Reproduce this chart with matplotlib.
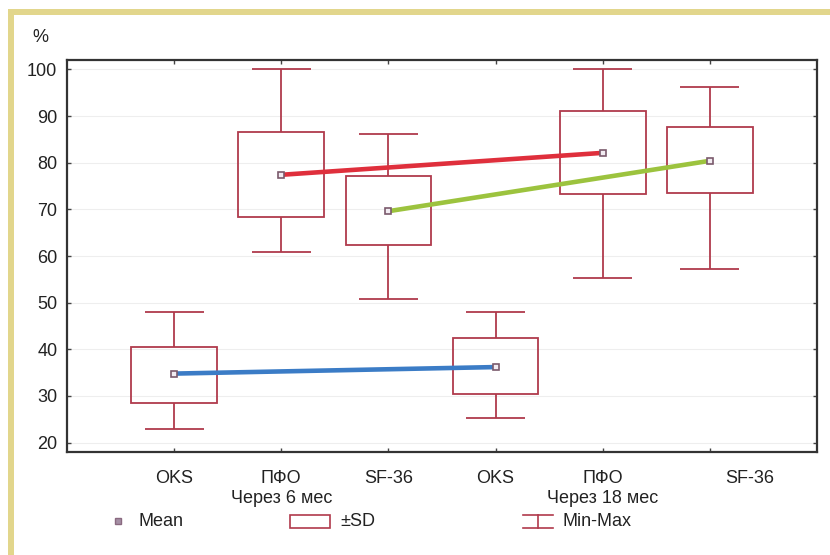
import matplotlib
matplotlib.use("Agg")
import matplotlib.pyplot as plt
from matplotlib.patches import Rectangle
from matplotlib.lines import Line2D
import matplotlib.transforms as mtransforms

plt.rcParams['font.family'] = ['Liberation Sans', 'DejaVu Sans']

# ---- data ----
categories = ["OKS", "ПФО\nЧерез 6 мес", "SF-36", "OKS", "ПФО\nЧерез 18 мес", "SF-36"]
means = [34.8, 77.4, 69.6, 36.2, 82.1, 80.4]
sd_low = [28.6, 68.4, 62.3, 30.5, 73.2, 73.6]
sd_high = [40.6, 86.5, 77.1, 42.5, 91.0, 87.6]
mins = [23.0, 60.8, 50.7, 25.2, 55.2, 57.3]
maxs = [47.9, 100.0, 86.1, 47.9, 100.0, 96.2]
yticks = [20, 30, 40, 50, 60, 70, 80, 90, 100]
line_pairs = [(0, 3), (1, 4), (2, 5)]
line_colors = ["#3b7cc6", "#df2f3c", "#9cc33e"]
legend_labels = ["Mean", "±SD", "Min-Max"]

W, H = 830, 555
fig = plt.figure(figsize=(W / 100, H / 100), dpi=100)
ax = fig.add_axes([67 / W, 1 - 452 / H, (817 - 67) / W, (452 - 60) / H])

box_col = "#b03a4c"
xs = list(range(1, len(categories) + 1))
box_w = 0.80
cap_w = 0.55

# boxes
ax.bar(xs, [h - l for h, l in zip(sd_high, sd_low)], bottom=sd_low, width=box_w,
       fill=False, edgecolor=box_col, linewidth=1.3, zorder=2)
# whiskers
ax.vlines(xs, sd_high, maxs, color=box_col, linewidth=1.3, zorder=2)
ax.vlines(xs, mins, sd_low, color=box_col, linewidth=1.3, zorder=2)
ax.hlines(maxs, [x - cap_w / 2 for x in xs], [x + cap_w / 2 for x in xs], color=box_col, linewidth=1.3, zorder=2)
ax.hlines(mins, [x - cap_w / 2 for x in xs], [x + cap_w / 2 for x in xs], color=box_col, linewidth=1.3, zorder=2)

# connecting lines
for (a, b), c in zip(line_pairs, line_colors):
    ax.plot([xs[a], xs[b]], [means[a], means[b]], color=c, linewidth=3.3,
            solid_capstyle='butt', zorder=3)

# mean markers
ax.plot(xs, means, linestyle='none', marker='s', markersize=5, markerfacecolor='#f2ecf2',
        markeredgecolor='#7a5a6c', markeredgewidth=1.2, zorder=4)

ax.set_xlim(0, 7)
ax.set_ylim(18, 102)
ax.set_yticks(yticks)
ax.set_yticklabels([str(v) for v in yticks], fontsize=13, color="#222222")
ax.set_xticks(xs)
ax.set_xticklabels(categories, fontsize=13, color="#222222", linespacing=1.2)
ax.tick_params(direction='in', top=True, right=True, length=3, width=1, color="#444444")
ax.tick_params(axis='y', pad=7)
ax.tick_params(axis='x', pad=13)
for sp in ax.spines.values():
    sp.set_color("#333333")
    sp.set_linewidth(1.6)
ax.grid(axis='y', color="#eeeeee", linewidth=0.8, zorder=0)
ax.set_axisbelow(True)

# shift the last x label to the right
lbls = ax.get_xticklabels()
offset = mtransforms.ScaledTranslation(40 / 100, 0, fig.dpi_scale_trans)
lbls[-1].set_transform(lbls[-1].get_transform() + offset)

# "%" label
fig.text(40 / W, 1 - 37 / H, "%", fontsize=13, ha='center', va='center', color="#222222")

# yellow frame (top + left)
fig.patches.append(Rectangle((8 / W, 1 - 15 / H), 1 - 8 / W, 6 / H, transform=fig.transFigure,
                             facecolor="#e2d68c", edgecolor='none', zorder=0))
fig.patches.append(Rectangle((8 / W, 0), 6 / W, 1 - 9 / H, transform=fig.transFigure,
                             facecolor="#e2d68c", edgecolor='none', zorder=0))

# legend (manual)
ly = 1 - 521 / H
fig.lines.append(Line2D([118 / W], [ly], transform=fig.transFigure, marker='s', markersize=5,
                        markerfacecolor='#a58fa5', markeredgecolor='#8a6a80', linestyle='none'))
fig.text(138 / W, ly, legend_labels[0], fontsize=13, va='center', ha='left', color="#222222")
fig.patches.append(Rectangle((290 / W, 1 - 528 / H), 40 / W, 13 / H, transform=fig.transFigure,
                             facecolor='white', edgecolor=box_col, linewidth=1.2))
fig.text(340 / W, ly, legend_labels[1], fontsize=13, va='center', ha='left', color="#222222")
for yy in (515, 528):
    fig.lines.append(Line2D([523 / W, 553 / W], [1 - yy / H, 1 - yy / H], transform=fig.transFigure,
                            color=box_col, linewidth=1.2))
fig.lines.append(Line2D([538 / W, 538 / W], [1 - 515 / H, 1 - 528 / H], transform=fig.transFigure,
                        color=box_col, linewidth=1.2))
fig.text(563 / W, ly, legend_labels[2], fontsize=13, va='center', ha='left', color="#222222")

fig.savefig("out.png", dpi=100)
